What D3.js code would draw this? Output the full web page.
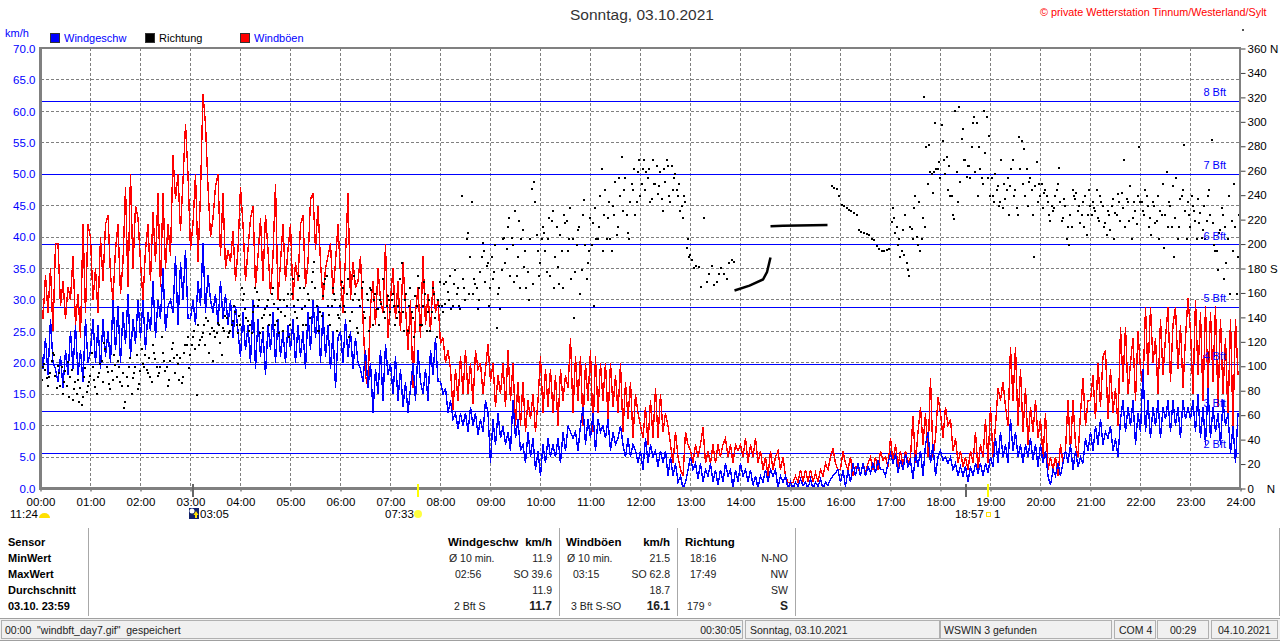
<!DOCTYPE html>
<html>
<head>
<meta charset="utf-8">
<script src="https://cdn.jsdelivr.net/npm/d3@7"></script>
<style>
body { margin: 0; background: #fff; }
svg { display: block; }
text { font-family: "Liberation Sans", Arial, sans-serif; font-size: 11px; }
</style>
</head>
<body>
<script>

// one line = one hour, 20 readings per hour
var windSpeed = [
23,19,24,18,27,20,19,17,21,16,22,18,25,19,26,18,22,17,27,20,
22,27,20,26,19,27,21,25,20,30,22,29,20,28,23,31,21,27,23,30,
24,30,22,28,25,33,24,30,27,35,25,29,30,28,37,26,36,30,38,27,
27,30,26,33,29,39,28,34,30,28,31,26,33,27,31,26,30,24,29,25,
21,28,22,26,20,30,19,27,21,25,18,26,22,28,20,27,21,25,20,26,
22,27,20,26,21,25,19,28,22,30,24,29,20,28,21,26,19,25,16,24,
25,20,27,21,25,19,24,20,19,17,22,16,20,12,19,15,22,14,23,18,
20,15,21,14,19,13,17,12,16,20,14,22,17,15,19,14,22,18,24,17,
17,15,16,12,14,11,12,9.5,12,10,12,9,13,10,12,8.5,11,9,14,12,
4,11,7,12,8,10,7,9,6,14,8,11,6,7,4,9,5,8,3,6,
2,7,4,8,5,7,5,8,4,9,6,10,9,8,9,6,10,13,7,11,
8,12,6,11,9,10,8,11,6,9,7,8,10,7,5,8,5,7,6,4,
6,3,8,4,7,5,6,3.5,6,4,6,2,5,2,4,1,2,0,1,3,
5,3,4,1.5,4,1,3,2,4,1,3,0.5,3,1,4,2,3,0,3,1,
4,2,3,1,3,0.5,2,0,2,1,3,1,3,2,3,0,2,1,2,0,
1,0,1,0.3,1.5,0.5,1,0,1.5,0,1,0.3,1.5,0,1,0.5,1.5,2,2.5,3,
1,3,0.3,3,1,4,2,4,2,4,2,3.5,2.5,4,2.5,4.5,3,3,2,4,
5.5,4,5.5,2.5,4.5,3,5.5,3.5,4.5,1.5,5.5,3.5,6,2,7,9,4,7,2,5,
6,4.5,5,4,5,3,4,2,3.5,2,3.5,1,3.5,2,4,2.5,4,2,4,2.5,
5,3.5,8,4,9,5,7,4,11,6,9,5,7,4,7,5,8,4.5,7,3.5,
7,4,6,2,0.5,3,2,4,2,4,6,4,7,3,6,3.5,5,4,8,6,
9,6,10,7,11,7,9,8,10,6,8,5,11,14,9,13,10,14,7,12,
9,19,9,14,8,13,10,14,8,13,11,14,9,14,10,13,8,14,11,13,
11,14,9,15,8,13,7,16,8,13,9,12,7,14,10,12,5.5,10,4,12
];

var windGust = [
30,27,34,28,35,25,39,39,29,33,27,32,30,37,26,31,24,42,28,42,
40,30,35,28,40,33,42,43.5,34,30,38,42,31,36,48,32,50,35,45,43,
36,30,38,42,33,44,36,47,32,47,35,42,37,53,46,50,41,49,58,50,
38,42,50,36,47,62.8,58,48,40,43,48,50,37,47,35,38,36,41,33,38,
48,42,33,38,43,45,32,37,43,33,43.5,38,31,37,48.5,30,36,42,33,38,
42,30,36,33,42,43.5,32,36,46,47,38,45,36,30,35,37,39,31,36,42,
34,28,37,47,30,36,32,33,37,27,18,16,29,33,26,35,30,28,38.9,24,
30,35,27,33,25,36,29,22,30,16,28,32,24,37,26,31,25,33,28,30,
23,24,20,22,19,12.5,19,14,21,15,22,15,20,13.5,22,19,20,15,19,23,
17,20,13,18,15,20,13,22,14,20,10,17,10,17,9,14,11,15,9,14,
21,12,19,13,19,12,18,10,19,14,18,16,24,12,21,14,21,10,20,14,
22,9,21,12,20,14,20,11,20,13,18,12,20,9,17,11,17,8,15,12,
10,8,13,7,14,8,16,8,15,9,12,10,7,4,9,5,3,2,9,7,
6,4,7,5,7,9.7,4,6,4,7,4,7,5,7,8,5,7,4,7,6,
7,5,8,4,7,5,8,4,6,3,5,2,6,3,5,6,3,5,2,1,
1,1,2,1,3,1,3,1,3,1,2.5,1,3,2,4,3,5,6.4,4,3,
3,6,4,3,5,2,3.5,3.5,2,4,2.5,4,5,3,5,3,6,4.5,5,3.5,
8,4,7,3.5,6,3.5,6,4,5,11.5,4,9,13,7,12,5,17.6,5,8,14.6,
12,8,13,10,11,6,8,4,6,3.5,5,3,6,4,9,3,7,5,11,4,
13,5,10,16,14,17,13,10,22.5,14,22.5,10,19,9,16,7,13,9,14,8,
11,5,12,3,5,3,5,2,7,4,6,14,6,14,7,5,12,17.6,10,14,
14,18,11,20,13,21,22,11,19,12,16,10,25.7,17,25.7,15,20,24,14,25,
19,16,28.8,18,28.8,20,24,15,27,18,24,28.8,17,26,28.8,19,26,16,24,30.3,
25,15,30,18,28,14,29,16,28,17,29,13,27,15,24,11,27,10,27,18
];

var windDir = [
90,103,91,92,105,110,83,95,100,88,85,76,98,82,78,72,69,92,80,88,
112,90,78,95,105,120,100,86,97,110,92,100,85,67,92,100,78,95,110,86,
115,100,98,108,88,112,100,95,125,105,100,90,115,108,110,90,87,112,118,99,
118,130,77,118,125,135,140,112,132,130,128,135,110,130,140,128,135,150,135,142,
165,160,140,130,128,150,162,155,140,143,150,135,160,152,138,128,145,155,150,125,
160,150,140,175,148,165,135,155,170,186,150,130,142,168,175,143,150,160,130,140,
170,150,160,125,145,175,132,155,165,145,160,130,163,155,148,135,152,145,150,155,
155,150,140,145,185,130,160,150,145,125,150,165,135,170,130,155,145,160,125,150,
150,168,170,155,148,168,160,150,240,165,205,160,235,172,165,155,190,195,183,150,
190,178,132,165,180,206,197,222,206,170,175,220,205,182,165,155,246,252,208,175,
205,210,178,222,220,165,215,168,195,225,220,205,172,140,200,215,180,237,172,195,
200,150,205,215,262,225,205,235,195,225,208,255,272,245,225,205,250,262,235,270,
250,270,260,262,238,250,265,248,238,262,270,240,265,255,245,250,232,240,198,190,
188,181,183,182,166,222,170,176,183,167,170,176,181,176,172,185,188,186,null,null,
null,null,null,null,null,null,null,null,null,null,null,null,null,null,null,null,null,null,null,null,
null,null,null,null,null,null,null,null,null,null,null,null,null,null,null,null,248,247,246,240,
233,232,230,229,228,226,225,212,211,210,209,208,205,204,199,197,195,195,196,197,
219,222,215,205,195,192,185,175,213,230,207,235,205,321,280,282,258,260,262,268,
298,270,272,265,240,221,260,313,287,270,256,265,280,305,300,280,255,310,305,289,
255,235,245,232,270,250,245,225,262,240,230,288,285,279,262,252,245,190,268,250,
250,243,240,225,232,230,245,263,220,238,205,200,215,240,243,232,225,215,208,245,
225,230,245,220,235,215,208,225,232,205,225,235,243,270,238,220,205,235,217,280,
235,225,240,215,208,232,220,205,225,198,260,235,215,190,255,215,240,282,205,225,
240,228,205,218,206,232,220,245,286,200,195,210,230,172,185,240,220,250,160,225
];

// second reading of the vane in the same hour, midnight to 13:00
var windDirMorning = [
100,98,85,95,112,93,101,85,78,97,104,92,73,88,90,83,76,99,85,93,
100,84,92,103,88,115,96,82,90,102,105,88,95,72,85,108,91,100,82,97,
103,110,95,92,118,107,93,100,112,97,85,105,120,95,103,108,92,118,125,110,
125,115,135,122,128,118,138,127,105,125,136,120,132,142,125,130,138,145,128,135,
155,148,138,135,145,165,150,128,132,148,155,143,165,135,148,155,130,142,160,135,
172,145,155,165,135,150,160,140,178,165,130,145,158,172,150,135,165,155,143,150,
165,145,172,138,155,160,128,150,170,140,155,165,135,160,148,155,172,140,158,145,
160,135,150,172,145,155,130,165,140,158,175,135,150,160,145,130,165,140,155,170,
145,152,162,175,150,180,165,148,172,155,210,190,160,168,148,178,202,170,185,165,
172,200,160,148,205,185,215,175,200,228,190,165,212,195,178,205,168,235,195,185,
215,195,205,175,228,190,182,208,165,218,195,230,205,178,212,160,225,200,185,222,
218,230,205,240,195,245,222,205,232,252,215,240,228,255,210,235,245,225,260,240,
262,245,255,235,270,250,242,260,228,252,265,235,245,258,240,228,222,235,205,192
];

// same, 17:00 to midnight
var windDirEvening = [
230,210,200,190,212,225,180,215,205,240,200,195,222,215,250,260,243,300,262,255,
285,258,245,240,225,310,235,252,295,270,265,255,300,260,240,262,250,275,255,240,
240,258,248,235,230,238,255,248,270,245,225,262,250,240,232,255,225,248,235,240,
230,245,235,220,228,240,250,235,222,232,215,225,245,238,228,218,235,240,225,232,
235,228,222,240,232,218,228,212,238,226,242,220,230,215,235,248,222,228,240,235,
228,245,232,222,235,218,240,228,250,225,215,232,248,222,205,238,245,228,235,215,
232,220,238,226,212,205,240,225,218,195,180,212,225,215,205,160,195,215,190,210
];

// calm stretch where the vane barely moves, reads as a solid line
var calmHours = [13.88, 14.18, 14.45, 14.53, 14.6, 14.6, 14.6, 14.85, 15.74];
var calmDeg = [162, 166, 171, 177, 189, null, 214.6, 215, 215.6];

var bftNames = ["8 Bft", "7 Bft", "6 Bft", "5 Bft", "4 Bft", "3 Bft", "2 Bft"];
var bftLimits = [61.6, 50, 38.8, 28.8, 19.7, 12.2, 5.6];

var kmhTicks = [0, 5, 10, 15, 20, 25, 30, 35, 40, 45, 50, 55, 60, 65, 70];
var dirTicks = [0, 20, 40, 60, 80, 100, 120, 140, 160, 180, 200, 220, 240, 260, 280, 300, 320, 340, 360];
var hourTicks = d3.range(0, 25);

var sensorRows = ["Sensor", "MinWert", "MaxWert", "Durchschnitt", "03.10. 23:59"];
var speedCol = [["Ø 10 min.", "11.9", 449], ["02:56", "SO 39.6", 455], ["", "11.9", 455], ["2 Bft S", "11.7", 454]];
var gustCol = [["Ø 10 min.", "21.5", 567], ["03:15", "SO 62.8", 573], ["", "18.7", 573], ["3 Bft S-SO", "16.1", 571]];
var dirCol = [["18:16", "N-NO", 690], ["17:49", "NW", 690], ["", "SW", 690], ["179 °", "S", 687]];

var W = 1280, H = 641;
var svg = d3.select("body").append("svg").attr("width", W).attr("height", H);

var x = d3.scaleLinear().domain([0, 24]).range([40.5, 1240.5]);
var y = d3.scaleLinear().domain([0, 70]).range([488.5, 48.5]);
var yDir = d3.scaleLinear().domain([0, 360]).range([488.5, 48.5]);

var grey = "#808080", blue = "#0000ff";

// grid
svg.append("g").selectAll("line").data(hourTicks.slice(1, 24)).enter().append("line")
  .attr("x1", x).attr("x2", x).attr("y1", 48).attr("y2", 488)
  .attr("stroke", grey).attr("stroke-dasharray", "3,2").attr("shape-rendering", "crispEdges");
svg.append("g").selectAll("line").data(kmhTicks.slice(1, 14)).enter().append("line")
  .attr("x1", 41).attr("x2", 1240).attr("y1", y).attr("y2", y)
  .attr("stroke", grey).attr("stroke-dasharray", "3,2").attr("shape-rendering", "crispEdges");

// beaufort limits
svg.append("g").selectAll("line").data(bftLimits).enter().append("line")
  .attr("x1", 41).attr("x2", 1240).attr("y1", y).attr("y2", y)
  .attr("stroke", blue).attr("shape-rendering", "crispEdges");

var seriesLine = d3.line()
  .x(function(d, i) { return x(i / 20); })
  .y(function(d) { return y(d); });

svg.append("path").datum(windGust).attr("d", seriesLine)
  .attr("fill", "none").attr("stroke", "#ff0000").attr("stroke-width", 1.4).attr("shape-rendering", "crispEdges");
svg.append("path").datum(windSpeed).attr("d", seriesLine)
  .attr("fill", "none").attr("stroke", blue).attr("stroke-width", 1.4).attr("shape-rendering", "crispEdges");

var dirPoints = windDir.map(function(d, i) { return { h: i / 20, v: d }; })
  .concat(windDirMorning.map(function(d, i) { return { h: (i + 0.5) / 20, v: d }; }))
  .concat(windDirEvening.map(function(d, i) { return { h: 17 + (i + 0.5) / 20, v: d }; }))
  .filter(function(d) { return d.v !== null; });

svg.append("g").selectAll("rect").data(dirPoints).enter().append("rect")
  .attr("x", function(d) { return Math.round(x(d.h)); })
  .attr("y", function(d) { return Math.round(yDir(d.v)); })
  .attr("width", 2).attr("height", 2).attr("fill", "#000");

var calmLine = d3.line()
  .defined(function(d, i) { return calmDeg[i] !== null; })
  .x(function(d) { return x(d); })
  .y(function(d, i) { return yDir(calmDeg[i]); });
svg.append("path").datum(calmHours).attr("d", calmLine)
  .attr("fill", "none").attr("stroke", "#000").attr("stroke-width", 2.5);

svg.append("g").selectAll("text").data(bftNames).enter().append("text")
  .attr("x", 1226).attr("text-anchor", "end").attr("fill", blue)
  .attr("y", function(d, i) { return y(bftLimits[i]) - 5; })
  .text(function(d) { return d; });

// axes
var leftAxis = svg.append("g").attr("transform", "translate(40.5,0)")
  .call(d3.axisLeft(y).tickValues(kmhTicks).tickSize(0).tickPadding(5).tickFormat(d3.format(".1f")));
leftAxis.select(".domain").remove();
leftAxis.selectAll("text").attr("fill", blue);

var rightAxis = svg.append("g").attr("transform", "translate(1240.5,0)")
  .call(d3.axisRight(yDir).tickValues(dirTicks).tickSize(5).tickPadding(2)
    .tickFormat(function(d) { return d == 360 ? "360 N" : d == 180 ? "180 S" : d == 0 ? "0\u00a0\u00a0\u00a0\u00a0N" : d; }));
rightAxis.select(".domain").remove();
rightAxis.selectAll("line").attr("stroke", "#404040");

var bottomAxis = svg.append("g").attr("transform", "translate(0,488.5)")
  .call(d3.axisBottom(x).tickValues(hourTicks).tickSize(3).tickPadding(6)
    .tickFormat(function(d) { return (d < 10 ? "0" : "") + d + ":00"; }));
bottomAxis.select(".domain").remove();
bottomAxis.selectAll("line").attr("stroke", "#404040");
svg.selectAll(".tick text").style("font-size", "11.5px").style("font-family", "'Liberation Sans'");

// plot frame
svg.append("rect").attr("x", 39).attr("y", 47).attr("width", 3).attr("height", 443).attr("fill", grey);
svg.append("rect").attr("x", 39).attr("y", 47).attr("width", 1202).attr("height", 2).attr("fill", grey);
svg.append("rect").attr("x", 1239).attr("y", 47).attr("width", 2).attr("height", 443).attr("fill", grey);
svg.append("rect").attr("x", 39).attr("y", 487).attr("width", 1202).attr("height", 3).attr("fill", grey);

// title, legend
svg.append("text").attr("x", 642).attr("y", 20).attr("text-anchor", "middle").attr("fill", "#333")
  .style("font-size", "15.5px").text("Sonntag, 03.10.2021");
svg.append("text").attr("x", 1040).attr("y", 16).attr("fill", "#ff0000")
  .style("font-size", "10.8px").text("© private Wetterstation Tinnum/Westerland/Sylt");
svg.append("rect").attr("x", 1242).attr("y", 29).attr("width", 2).attr("height", 2).attr("fill", "#555");
svg.append("text").attr("x", 5).attr("y", 37).attr("fill", blue).text("km/h");

var legendX = [50, 145, 240];
var legendColors = ["#0000ff", "#000000", "#ff0000"];
var legendText = ["Windgeschw", "Richtung", "Windböen"];
var legendTextColors = ["#0000ff", "#000000", "#0000ff"];
legendText.forEach(function(t, i) {
  svg.append("rect").attr("x", legendX[i] + 0.5).attr("y", 33.5).attr("width", 9).attr("height", 9)
    .attr("fill", legendColors[i]).attr("stroke", "#333");
  svg.append("text").attr("x", legendX[i] + 14).attr("y", 42).attr("fill", legendTextColors[i]).text(t);
});

// sun, moon markers under the axis
[[193, "#666"], [418, "#ffff00"], [966, "#666"], [988, "#ffff00"]].forEach(function(m) {
  svg.append("rect").attr("x", m[0] - 1).attr("y", 484).attr("width", 2).attr("height", 13).attr("fill", m[1]);
});
function note(px, txt) {
  svg.append("text").attr("x", px).attr("y", 518).style("font-size", "11.5px").text(txt);
}
note(10, "11:24");
note(200, "03:05");
note(385, "07:33");
note(955, "18:57");
note(994, "1");
svg.append("path").attr("d", "M39 518a5.5 5 0 0 1 11 0z").attr("fill", "#ffe000");
svg.append("rect").attr("x", 189).attr("y", 508).attr("width", 10).attr("height", 11).attr("fill", "#10206a");
svg.append("circle").attr("cx", 192).attr("cy", 511).attr("r", 2.5).attr("fill", "#fff");
svg.append("path").attr("d", "M196 511l-2.5 4h1.5v3h2v-3h1.5z").attr("fill", "#ffe000");
svg.append("circle").attr("cx", 418).attr("cy", 514).attr("r", 4).attr("fill", "#ffff40");
svg.append("rect").attr("x", 986.5).attr("y", 512.5).attr("width", 4).attr("height", 4)
  .attr("fill", "#fff").attr("stroke", "#ffe000");

// summary table
var rowY = [546, 562, 578, 594, 610];
sensorRows.forEach(function(t, i) {
  svg.append("text").attr("x", 8).attr("y", rowY[i]).style("font-weight", "bold").style("font-size", "11px").text(t);
});
[88, 559, 677, 795, 1279].forEach(function(px) {
  svg.append("line").attr("x1", px + 0.5).attr("x2", px + 0.5).attr("y1", 528).attr("y2", 616)
    .attr("stroke", "#a8a8a8");
});

function headText(px, t, anchor) {
  svg.append("text").attr("x", px).attr("y", rowY[0]).attr("text-anchor", anchor || "start")
    .style("font-weight", "bold").style("font-size", "11.5px").text(t);
}
headText(448, "Windgeschw");
headText(552, "km/h", "end");
headText(566, "Windböen");
headText(670, "km/h", "end");
headText(685, "Richtung");

function column(rows, rightX) {
  rows.forEach(function(r, i) {
    var last = i == rows.length - 1;
    svg.append("text").attr("x", r[2]).attr("y", rowY[i + 1])
      .attr("fill", "#222").style("font-size", "10.5px").text(r[0]);
    svg.append("text").attr("x", rightX).attr("y", rowY[i + 1]).attr("text-anchor", "end")
      .attr("fill", "#222").style("font-size", last ? "12px" : "10.5px")
      .style("font-weight", last ? "bold" : "normal").text(r[1]);
  });
}
column(speedCol, 552);
column(gustCol, 670);
column(dirCol, 788);

// status bar
svg.append("rect").attr("x", 0).attr("y", 618).attr("width", W).attr("height", 23).attr("fill", "#f0f0f0");
svg.append("line").attr("x1", 0).attr("x2", W).attr("y1", 618.5).attr("y2", 618.5).attr("stroke", "#a0a0a0");
svg.append("line").attr("x1", 0).attr("x2", W).attr("y1", 640.5).attr("y2", 640.5).attr("stroke", "#a0a0a0");

var statusX = [2, 746, 941, 1115, 1158, 1212];
var statusEnd = [743, 940, 1112, 1156, 1209, 1278];
statusX.forEach(function(px, i) {
  svg.append("rect").attr("x", px - 0.5).attr("y", 620.5).attr("width", statusEnd[i] - px).attr("height", 18)
    .attr("fill", "none").attr("stroke", "#b0b0b0");
});
function statusText(px, t, anchor) {
  svg.append("text").attr("x", px).attr("y", 634).attr("text-anchor", anchor || "start")
    .attr("fill", "#222").style("font-size", "10.5px").text(t);
}
statusText(5, "00:00  \u00a0\"windbft_day7.gif\"  \u00a0gespeichert");
statusText(741, "00:30:05", "end");
statusText(750, "Sonntag, 03.10.2021");
statusText(944, "WSWIN 3 gefunden");
statusText(1119, "COM 4");
statusText(1170, "00:29");
statusText(1218, "04.10.2021");

</script>
</body>
</html>
